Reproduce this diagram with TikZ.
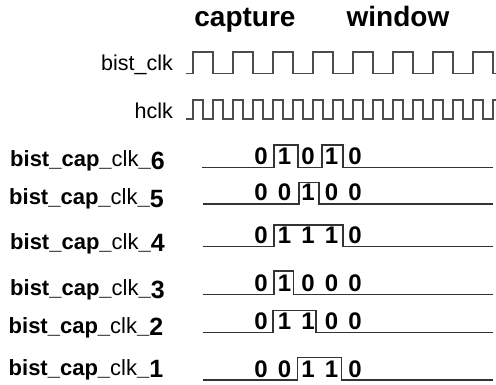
\documentclass[tikz,border=0pt]{standalone}
\usepackage{fontspec}
\setmainfont{Liberation Sans}
\newcommand{\rowdigit}[1]{\raisebox{-2.5pt}{\fontsize{25}{27}\selectfont\bfseries #1}}
\begin{document}
\begin{tikzpicture}[x=1pt,y=-1pt,
  wave/.style={draw=black!70,line width=1.3pt,line join=miter},
  dline/.style={draw=black!80,line width=1.2pt,line join=miter},
  lbl/.style={inner sep=0pt,anchor=base east,font=\fontsize{21.5}{24}\selectfont},
  rowlbl/.style={inner sep=0pt,anchor=base west,font=\fontsize{22}{24}\selectfont},
  bit/.style={inner sep=0pt,anchor=base,font=\fontsize{24}{26}\selectfont\bfseries},
  ttl/.style={inner sep=0pt,anchor=base,font=\fontsize{28}{30}\selectfont\bfseries}]
\useasboundingbox (0,0) rectangle (496,385);
% title
\node[ttl] (t1) at (245,27) {capture};
\node[ttl] (t2) at (398,27) {window};
% clock labels
\node[lbl] (lbclk) at (173,71) {bist\_clk};
\node[lbl] (lhclk) at (173,119) {hclk};
% bist_clk waveform
\draw[wave] (186,73.5)
  \foreach \k in {0,...,7} { -- ({193+40*\k},73.5) -- ({193+40*\k},52) -- ({213+40*\k},52) -- ({213+40*\k},73.5) }
  -- (496,73.5);
% hclk waveform
\draw[wave] (186,119)
  \foreach \k in {0,...,14} { -- ({193+20*\k},119) -- ({193+20*\k},100) -- ({203+20*\k},100) -- ({203+20*\k},119) }
  -- (493,119) -- (493,100) -- (497,100);
% row labels
\node[rowlbl] (l6) at (10,166.7) {\bfseries bist\_cap\_\mdseries clk\bfseries\_\rowdigit{6}};
\node[rowlbl] (l5) at (9,205) {\bfseries bist\_cap\_\mdseries clk\bfseries\_\rowdigit{5}};
\node[rowlbl] (l4) at (10,249.3) {\bfseries bist\_cap\_\mdseries clk\bfseries\_\rowdigit{4}};
\node[rowlbl] (l3) at (10,295.7) {\bfseries bist\_cap\_\mdseries clk\bfseries\_\rowdigit{3}};
\node[rowlbl] (l2) at (8.5,333.3) {\bfseries bist\_cap\_\mdseries clk\bfseries\_\rowdigit{2}};
\node[rowlbl] (l1) at (8.5,375) {\bfseries bist\_cap\_\mdseries clk\bfseries\_\rowdigit{1}};
% row 6 : 0 1 0 1 0
\draw[dline] (202,167.3) -- (274,167.3) -- (274,145) -- (298,145) -- (298,167.3) -- (322,167.3) -- (322,145) -- (343,145) -- (343,167.3) -- (493,167.3);
\foreach \d [count=\i from 0] in {0,1,0,1,0}
  \node[bit] (b6\i) at ({261+23.5*\i},164.5) {\d};
% row 5 : 0 0 1 0 0
\draw[dline] (203,204) -- (299,204) -- (299,182.5) -- (319,182.5) -- (319,204) -- (493,204);
\foreach \d [count=\i from 0] in {0,0,1,0,0}
  \node[bit] (b5\i) at ({261+23.5*\i},201) {\d};
% row 4 : 0 1 1 1 0
\draw[dline] (203,246.7) -- (274,246.7) -- (274,225) -- (343,225) -- (343,246.7) -- (493,246.7);
\foreach \d [count=\i from 0] in {0,1,1,1,0}
  \node[bit] (b4\i) at ({261+23.5*\i},243.7) {\d};
% row 3 : 0 1 0 0 0
\draw[dline] (203,294.3) -- (274,294.3) -- (274,271) -- (293.5,271) -- (293.5,294.3) -- (493,294.3);
\foreach \d [count=\i from 0] in {0,1,0,0,0}
  \node[bit] (b3\i) at ({261+23.5*\i},291.3) {\d};
% row 2 : 0 1 1 0 0
\draw[dline] (203,332.3) -- (273,332.3) -- (273,310.7) -- (316,310.7) -- (316,332.3) -- (493,332.3);
\foreach \d [count=\i from 0] in {0,1,1,0,0}
  \node[bit] (b2\i) at ({261+23.5*\i},329.3) {\d};
% row 1 : 0 0 1 1 0
\draw[dline] (203,380) -- (297.5,380) -- (297.5,357.7) -- (341.7,357.7) -- (341.7,380) -- (493,380);
\foreach \d [count=\i from 0] in {0,0,1,1,0}
  \node[bit] (b1\i) at ({261+23.5*\i},377) {\d};
\end{tikzpicture}
\end{document}
